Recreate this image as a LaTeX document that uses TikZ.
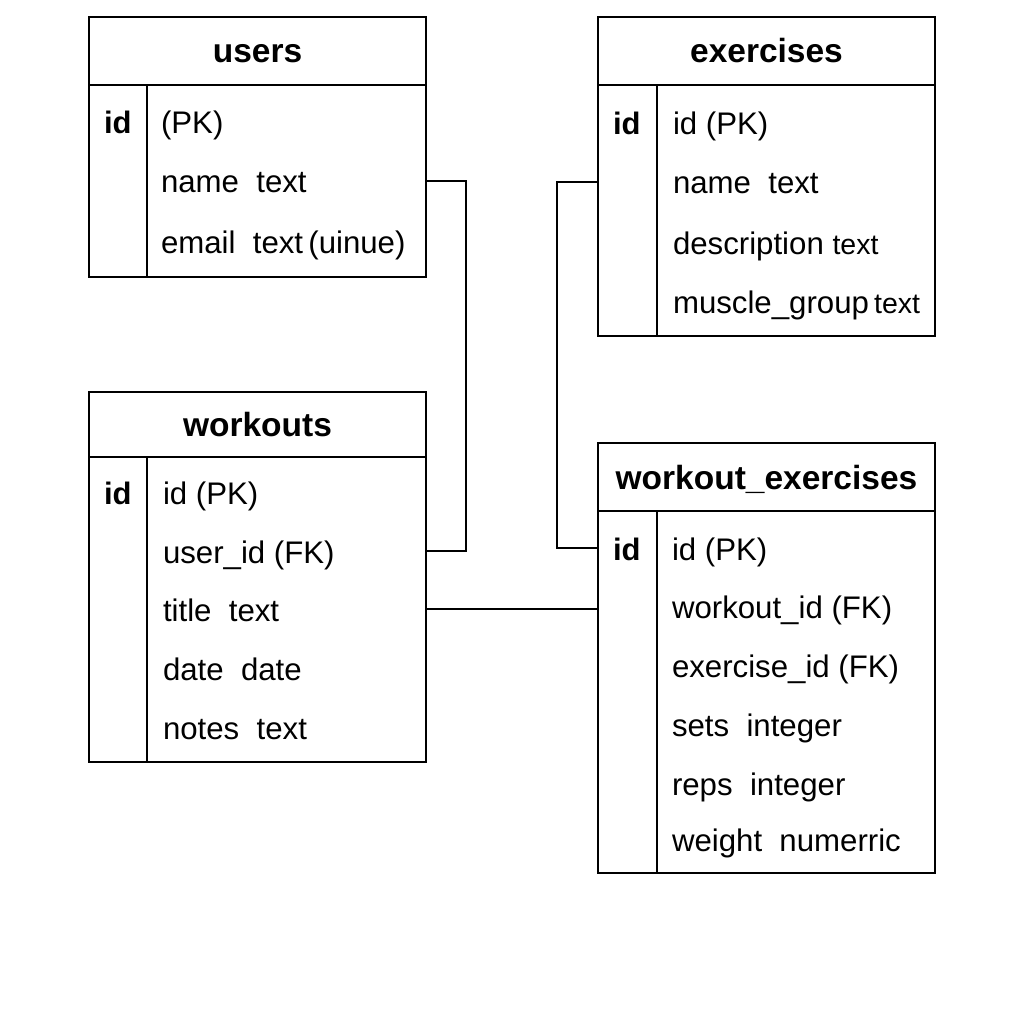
\documentclass[tikz,border=0pt]{standalone}
\usepackage{fontspec}
\setmainfont{Liberation Sans}
\usetikzlibrary{positioning}

\begin{document}
\begin{tikzpicture}[x=1pt,y=-1pt,line width=1.8pt,
  every node/.style={inner sep=0pt,outer sep=0pt},
  tbl/.style={draw,minimum width=337pt},
  head/.style={draw,minimum width=337pt,text height=24pt,text depth=0pt,font=\fontsize{33.5}{40}\selectfont\bfseries},
  row/.style={anchor=west,text height=24pt,text depth=0pt,font=\fontsize{31.2}{38}\selectfont},
  key/.style={anchor=west,text height=24pt,text depth=0pt,font=\fontsize{31}{38}\selectfont\bfseries}]
\useasboundingbox (0,0) rectangle (1024,1024);

\node[tbl,minimum height=260pt] (users) at (257.5,147) {};
\node[head,minimum height=68pt,anchor=north] (usershead) at (users.north) {users};
\draw ([xshift=58pt]usershead.south west) -- ([xshift=58pt]users.south west);
\node[key] (uk) at (104,122) {id};
\node[row] (uid) at (161,122) {(PK)};
\node[row] (uname) at (161,181) {name\ \ text};
\node[row] (umail) at (161,241) {email\ \ text\,(uinue)};

\node[tbl,minimum height=319pt] (exercises) at (766.5,176.5) {};
\node[head,minimum height=68pt,anchor=north] (exhead) at (exercises.north) {exercises};
\draw ([xshift=59pt]exhead.south west) -- ([xshift=59pt]exercises.south west);
\node[key] (ek) at (613,123) {id};
\node[row] (eid) at (673,123) {id (PK)};
\node[row] (ename) at (673,182) {name\ \ text};
\node[row] (edesc) at (673,242) {description {\fontsize{28.5}{36}\selectfont text}};
\node[row] (egroup) at (673,301) {muscle\_group\,{\fontsize{28.5}{36}\selectfont text}};

\node[tbl,minimum height=370pt] (workouts) at (257.5,577) {};
\node[head,minimum height=65pt,anchor=north] (wohead) at (workouts.north) {workouts};
\draw ([xshift=58pt]wohead.south west) -- ([xshift=58pt]workouts.south west);
\node[key] (wk) at (104,492) {id};
\node[row] (wid) at (163,492) {id (PK)};
\node[row] (wuser) at (163,551) {user\_id (FK)};
\node[row] (wtitle) at (163,609) {title\ \ text};
\node[row] (wdate) at (163,668) {date\ \ date};
\node[row] (wnotes) at (163,727) {notes\ \ text};

\node[tbl,minimum height=430pt] (we) at (766.5,658) {};
\node[head,minimum height=68pt,anchor=north] (wehead) at (we.north) {workout\_exercises};
\draw ([xshift=59pt]wehead.south west) -- ([xshift=59pt]we.south west);
\node[key] (wek) at (613,548) {id};
\node[row] (weid) at (672,548) {id (PK)};
\node[row] (wewo) at (672,606) {workout\_id (FK)};
\node[row] (weex) at (672,665) {exercise\_id (FK)};
\node[row] (wesets) at (672,724) {sets\ \ integer};
\node[row] (wereps) at (672,783) {reps\ \ integer};
\node[row] (wewt) at (672,839) {weight\ \ numerric};

\draw (users.east |- uname) -- ++(40,0) |- (workouts.east |- wuser);
\draw (exercises.west |- ename) -- ++(-41,0) |- (we.west |- weid);
\draw (workouts.east |- wtitle) -- (we.west |- wtitle);
\end{tikzpicture}
\end{document}
